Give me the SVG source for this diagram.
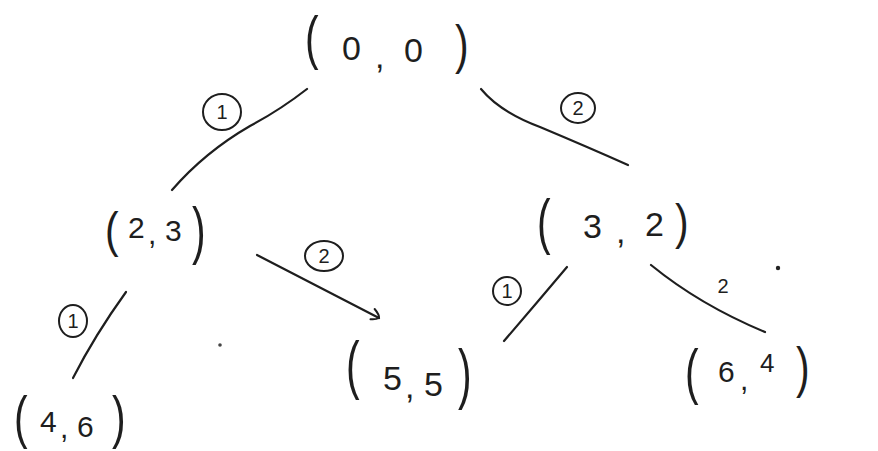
<svg xmlns="http://www.w3.org/2000/svg" width="878" height="451" viewBox="0 0 878 451">
<defs>
<style>
.t{font-family:"Liberation Sans","DejaVu Sans",sans-serif;fill:#1e1e1e}
.p{font-family:"Liberation Sans","DejaVu Sans",sans-serif;font-size:34px;fill:#1e1e1e}
.e{fill:none;stroke:#1e1e1e;stroke-width:2.2;stroke-linecap:round}
.c{fill:none;stroke:#1e1e1e;stroke-width:2}
.l{font-family:"Liberation Sans","DejaVu Sans",sans-serif;font-size:20px;fill:#1e1e1e;text-anchor:middle}
</style>
<marker id="hook" markerWidth="14" markerHeight="14" refX="10" refY="7" orient="auto" markerUnits="userSpaceOnUse">
<path d="M2,1 Q9,4 10,7 Q8,10 3,12" fill="none" stroke="#1e1e1e" stroke-width="2" stroke-linecap="round"/>
</marker>
</defs>
<rect width="878" height="451" fill="#fff"/>
<g id="connectors">
<path class="e" d="M307,89 Q280,110 250,126 Q205,152 172,190"/>
<path class="e" d="M481,89 Q500,112 540,127 Q590,148 628,165"/>
<path class="e" d="M257,255 L379,318" marker-end="url(#hook)"/>
<path class="e" d="M126,292 Q95,335 73,378"/>
<path class="e" d="M567,267 Q535,305 504,341"/>
<path class="e" d="M651,265 Q700,305 765,332"/>
</g>
<g id="edge-labels">
<ellipse class="c" cx="222" cy="112" rx="19" ry="18"/><text class="l" x="222" y="119">1</text>
<ellipse class="c" cx="578" cy="108" rx="17" ry="15"/><text class="l" x="578" y="115">2</text>
<ellipse class="c" cx="324" cy="256" rx="19" ry="15"/><text class="l" x="324" y="263">2</text>
<ellipse class="c" cx="73" cy="321" rx="14" ry="16"/><text class="l" x="73" y="328">1</text>
<ellipse class="c" cx="507" cy="291" rx="14" ry="14"/><text class="l" x="507" y="298">1</text>
<text class="l" x="723" y="293">2</text>
</g>
<circle cx="220" cy="345" r="1.8" fill="#444"/>
<circle cx="778" cy="268" r="2.2" fill="#222"/>
<g id="n00">
<text class="p" transform="translate(305,58) scale(1.2,1.75)">(</text>
<text class="t" style="font-size:34px"><tspan x="342" y="60">0</tspan><tspan x="375" y="68">,</tspan><tspan x="404" y="62">0</tspan></text>
<text class="p" transform="translate(455,63) scale(1.2,1.6)">)</text>
</g>
<g id="n23">
<text class="p" transform="translate(105,247) scale(1.2,1.47)">(</text>
<text class="t" style="font-size:30px"><tspan x="128" y="238">2</tspan><tspan x="148" y="244">,</tspan><tspan x="165" y="241">3</tspan></text>
<text class="p" transform="translate(192,252) scale(1.2,1.85)">)</text>
</g>
<g id="n32">
<text class="p" transform="translate(537,242) scale(1.2,1.81)">(</text>
<text class="t" style="font-size:34px"><tspan x="583" y="238">3</tspan><tspan x="616" y="243">,</tspan><tspan x="645" y="236">2</tspan></text>
<text class="p" transform="translate(675,239) scale(1.2,1.47)">)</text>
</g>
<g id="n46">
<text class="p" transform="translate(14,437) scale(1.2,1.68)">(</text>
<text class="t" style="font-size:30px"><tspan x="40" y="432">4</tspan><tspan x="60" y="438">,</tspan><tspan x="77" y="437">6</tspan></text>
<text class="p" transform="translate(112,437) scale(1.2,1.68)">)</text>
</g>
<g id="n55">
<text class="p" transform="translate(346,387) scale(1.2,1.88)">(</text>
<text class="t" style="font-size:34px"><tspan x="383" y="390">5</tspan><tspan x="405" y="398">,</tspan><tspan x="424" y="396">5</tspan></text>
<text class="p" transform="translate(458,396) scale(1.2,1.97)">)</text>
</g>
<g id="n64">
<text class="p" transform="translate(685,392) scale(1.2,1.81)">(</text>
<text class="t" style="font-size:30px"><tspan x="718" y="382">6</tspan><tspan x="740" y="390">,</tspan><tspan x="760" y="372" style="font-size:26px">4</tspan></text>
<text class="p" transform="translate(796,386) scale(1.2,1.63)">)</text>
</g>
</svg>
